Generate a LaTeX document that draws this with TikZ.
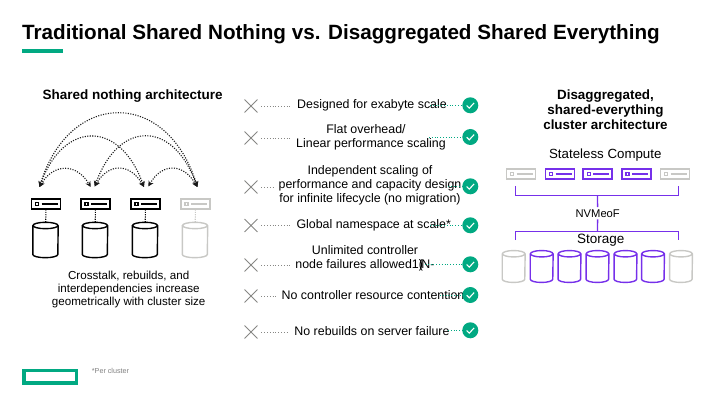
\documentclass[tikz,border=0pt]{standalone}
\usepackage{fontspec}
\setmainfont{Liberation Sans}
\definecolor{hpegreen}{RGB}{1, 169, 130}
\definecolor{hpepurple}{RGB}{118, 48, 234}
\definecolor{softgray}{RGB}{200, 200, 197}
\definecolor{crossgray}{RGB}{135, 135, 132}
\usetikzlibrary{shapes.misc, arrows.meta, positioning, calc}
\tikzset{
  serverbox/.style={draw=#1, line width=1.6pt, minimum width=29pt, minimum height=9.5pt, inner sep=0pt,
    path picture={
      \draw[#1, line width=1.2pt] ($(path picture bounding box.west)+(4,-1.5)$) rectangle ++(3,3);
      \draw[#1, line width=1.2pt] ($(path picture bounding box.west)+(10,0)$) -- ($(path picture bounding box.east)+(-3,0)$);
    }},
  diskbox/.style n args={3}{minimum width=#2, minimum height=#3, inner sep=0pt,
    append after command={\pgfextra{
      \draw[#1, line width=1.4pt] ($(\tikzlastnode.north)+(0,3.2)$) ellipse [x radius=#2/2, y radius=3.2];
      \draw[#1, line width=1.4pt] ($(\tikzlastnode.north west)+(0,3.2)$) -- ($(\tikzlastnode.south west)+(0,-3.2)$)
        arc [start angle=180, end angle=0, x radius=#2/2, y radius=3.2] -- ($(\tikzlastnode.north east)+(0,3.2)$);
    }}},
  linkdots/.style={line width=1.1pt, dash pattern=on 1.1pt off 1.2pt},
  archdots/.style={line width=1.1pt, dash pattern=on 1.1pt off 1.4pt, black!90, {Stealth[length=5.5pt,width=5.5pt]}-{Stealth[length=5.5pt,width=5.5pt]}},
  crossmark/.style={cross out, draw=crossgray, line width=0.9pt, minimum size=12pt, inner sep=0pt},
  checkmark/.style={circle, fill=hpegreen, minimum size=16pt, inner sep=0pt,
    path picture={
      \draw[white, line width=1.1pt] ($(path picture bounding box.center)+(-3.6,0.2)$) -- ++(2.6,2.6) -- ++(4.8,-5.2);
    }},
  graydots/.style={crossgray, line width=0.9pt, dash pattern=on 1pt off 1.8pt, shorten <=4pt},
  greendots/.style={hpegreen, line width=0.9pt, dash pattern=on 1pt off 1.8pt},
  rowtext/.style={align=center, font=\fontsize{12.4}{13.8}\selectfont, inner sep=5pt}
}
\begin{document}
\begin{tikzpicture}[x=1pt, y=-1pt]
  \useasboundingbox (0,0) rectangle (720,406);

  % Title
  \node[anchor=west, inner sep=0pt, font=\fontsize{20.65}{24}\selectfont\bfseries] (title) at (22,34) {Traditional Shared Nothing vs. Disaggregated Shared Everything};
  \fill[hpegreen] (22.3,49.3) rectangle (62.7,53.3);

  % Shared nothing side
  \node[font=\fontsize{13.5}{15}\selectfont\bfseries] (lefthead) at (132.7,95.7) {Shared nothing architecture};

  \node[serverbox=black] (srvA) at (46,204) {};
  \node[serverbox=black] (srvB) at (95.5,204) {};
  \node[serverbox=black] (srvC) at (145.5,204) {};
  \node[serverbox=softgray] (srvD) at (195.5,204) {};

  \node[diskbox={black}{25}{35}] (dskA) at (45.5,240) {};
  \node[diskbox={black}{25}{35}] (dskB) at (95,240) {};
  \node[diskbox={black}{25}{35}] (dskC) at (145,240) {};
  \node[diskbox={softgray}{25}{35}] (dskD) at (195,240) {};

  \draw[linkdots] (srvA) -- (dskA);
  \draw[linkdots] (srvB) -- (dskB);
  \draw[linkdots] (srvC) -- (dskC);
  \draw[linkdots, softgray] (srvD) -- (dskD);

  % Crosstalk arcs
  \coordinate (tipA) at (39.5,187);
  \coordinate (tipB) at (90.7,187);
  \coordinate (tipC) at (94.7,186.5);
  \coordinate (tipD) at (144,187);
  \coordinate (tipE) at (148.3,186.5);
  \coordinate (tipF) at (197.3,187);
  \draw[archdots] (tipA) .. controls +(30,-98) and +(-30,-98) .. (tipF);
  \draw[archdots] (tipA) .. controls +(24,-67) and +(-24,-67) .. (tipD);
  \draw[archdots] (tipC) .. controls +(24,-67) and +(-24,-67) .. (tipF);
  \draw[archdots] (tipA) .. controls +(14,-24) and +(-14,-24) .. (tipB);
  \draw[archdots] (tipC) .. controls +(14,-24) and +(-14,-24) .. (tipD);
  \draw[archdots] (tipE) .. controls +(14,-24) and +(-14,-24) .. (tipF);

  \node[align=center, font=\fontsize{11.6}{12.8}\selectfont] (leftnote) at (128.7,289.3) {Crosstalk, rebuilds, and\\interdependencies increase\\geometrically with cluster size};

  % Comparison rows
  \node[crossmark] (crs1) at (251,106) {};
  \node[crossmark] (crs2) at (251,138) {};
  \node[crossmark] (crs3) at (251,187) {};
  \node[crossmark] (crs4) at (251,225.5) {};
  \node[crossmark] (crs5) at (251,265) {};
  \node[crossmark] (crs6) at (251,296) {};
  \node[crossmark] (crs7) at (251,332) {};

  \node[rowtext] (row1) at (372,105) {Designed for exabyte scale};
  \node[rowtext] (row2) at (371,137) {Flat overhead/\hspace*{10pt}\\Linear performance scaling};
  \node[rowtext] (row3) at (370,185) {Independent scaling of\\performance and capacity design\\for infinite lifecycle (no migration)};
  \node[rowtext] (row4) at (373.7,225.7) {Global namespace at scale*};
  \node[rowtext] (row5) at (365,258) {Unlimited controller\\node failures allowed1\rlap{(})\kern-1.5pt N-};
  \node[rowtext] (row6) at (373,295) {No controller resource contention};
  \node[rowtext] (row7) at (372,330.7) {No rebuilds on server failure};

  \draw[graydots] (crs1) -- (crs1 -| row1.west);
  \draw[graydots] (crs2) -- (crs2 -| row2.west);
  \draw[graydots] (crs3) -- (crs3 -| row3.west);
  \draw[graydots] (crs4) -- (crs4 -| row4.west);
  \draw[graydots] (crs5) -- (crs5 -| row5.west);
  \draw[graydots] (crs6) -- (crs6 -| row6.west);
  \draw[graydots] (crs7) -- (crs7 -| row7.west);

  \node[checkmark] (chk1) at (470.3,105.3) {};
  \node[checkmark] (chk2) at (470.3,137) {};
  \node[checkmark] (chk3) at (470.3,186.3) {};
  \node[checkmark] (chk4) at (470.3,225.3) {};
  \node[checkmark] (chk5) at (470.3,264.3) {};
  \node[checkmark] (chk6) at (470.3,295) {};
  \node[checkmark] (chk7) at (470.3,330.3) {};

  \coordinate (grn1) at (430,105.3);
  \coordinate (grn2) at (429,137);
  \coordinate (grn3) at (448,186.3);
  \coordinate (grn4) at (430,225.3);
  \coordinate (grn5) at (425,264.3);
  \coordinate (grn6) at (440,295);
  \coordinate (grn7) at (448,330.3);
  \draw[greendots] (grn1) -- (chk1);
  \draw[greendots] (grn2) -- (chk2);
  \draw[greendots] (grn3) -- (chk3);
  \draw[greendots] (grn4) -- (chk4);
  \draw[greendots] (grn5) -- (chk5);
  \draw[greendots] (grn6) -- (chk6);
  \draw[greendots] (grn7) -- (chk7);

  % Disaggregated side
  \node[align=center, font=\fontsize{13.4}{15}\selectfont\bfseries] (righthead) at (605.5,110) {Disaggregated,\\shared-everything\\cluster architecture};
  \node[font=\fontsize{13.3}{15}\selectfont] (compute) at (605.3,155.3) {Stateless Compute};

  \node[serverbox=softgray] (cmpA) at (521,174) {};
  \node[serverbox=hpepurple] (cmpB) at (560,174) {};
  \node[serverbox=hpepurple] (cmpC) at (597.7,174) {};
  \node[serverbox=hpepurple] (cmpD) at (636.5,174) {};
  \node[serverbox=softgray] (cmpE) at (675,174) {};

  \node[font=\fontsize{11.2}{13}\selectfont, inner sep=2pt] (nvme) at (597.7,213.3) {NVMeoF};
  \node[font=\fontsize{13.5}{15}\selectfont, inner sep=0pt] (store) at (600.7,240) {Storage};

  \coordinate (upL) at (515.5,186);
  \coordinate (upM) at (597.5,195.5);
  \coordinate (upR) at (678.5,186);
  \coordinate (loL) at (515.5,240);
  \coordinate (loM) at (597.5,231.5);
  \coordinate (loR) at (678.5,240);
  \draw[hpepurple, line width=1.3pt] (upL) |- (upM) -| (upR);
  \draw[hpepurple, line width=1.3pt] (upM) -- (nvme);
  \draw[hpepurple, line width=1.3pt] (loL) |- (loM) -| (loR);
  \draw[hpepurple, line width=1.3pt] (loM) -- (nvme);

  \node[diskbox={softgray}{22.5}{31.5}] (strA) at (513.7,266.5) {};
  \node[diskbox={hpepurple}{22.5}{31.5}] (strB) at (541.7,266.5) {};
  \node[diskbox={hpepurple}{22.5}{31.5}] (strC) at (569.5,266.5) {};
  \node[diskbox={hpepurple}{22.5}{31.5}] (strD) at (597.5,266.5) {};
  \node[diskbox={hpepurple}{22.5}{31.5}] (strE) at (625.5,266.5) {};
  \node[diskbox={hpepurple}{22.5}{31.5}] (strF) at (653,266.5) {};
  \node[diskbox={softgray}{22.5}{31.5}] (strG) at (681,266.5) {};

  % Footer
  \draw[hpegreen, line width=3.3pt] (24,370.7) rectangle (76.6,383);
  \node[anchor=west, inner sep=0pt, text=gray, font=\fontsize{7.2}{8}\selectfont] (foot) at (91.7,371.3) {*Per cluster};
\end{tikzpicture}
\end{document}
